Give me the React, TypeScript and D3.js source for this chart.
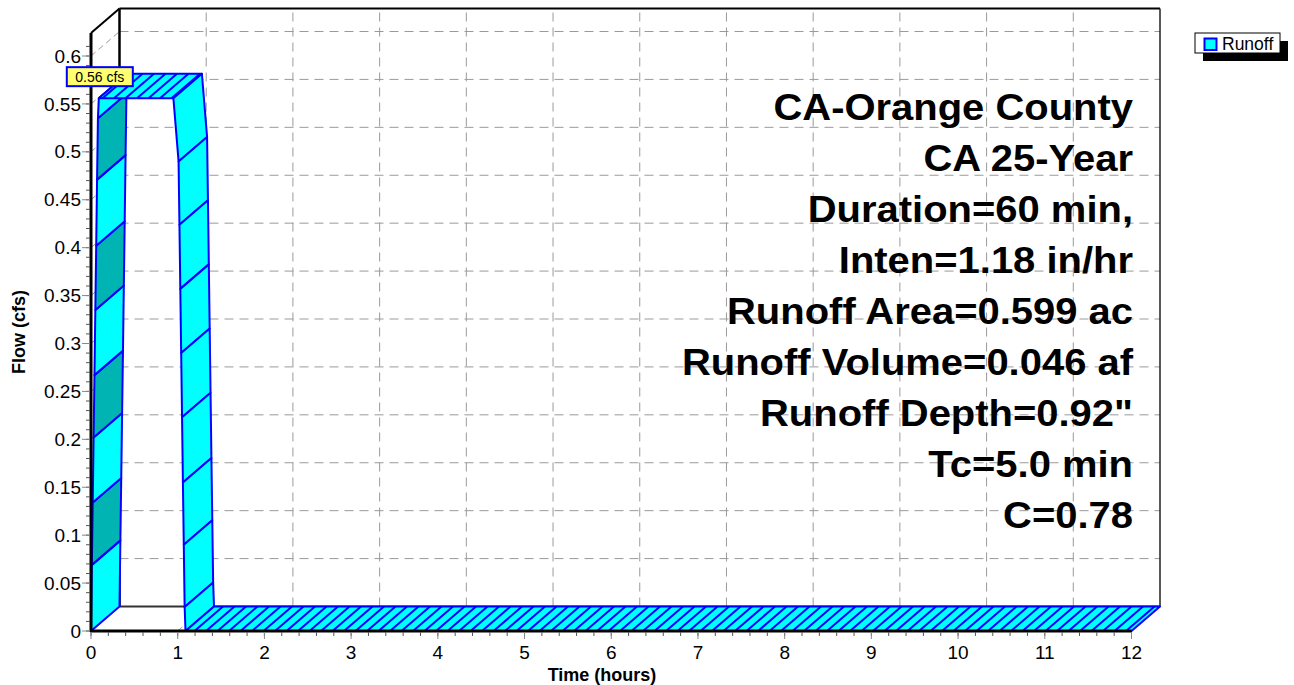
import React from "react";
import * as d3 from "d3";

// Runoff hydrograph (hours, cfs)
const timeHours = [0, 0.01, 0.02, 0.03, 0.04, 0.05, 0.06, 0.07, 0.08, 0.09, 0.95, 1.01, 1.02, 1.03, 1.04, 1.05, 1.06, 1.07, 1.08, 1.09, 12];
const runoffCfs = [0, 0.069, 0.134, 0.202, 0.267, 0.335, 0.402, 0.471, 0.535, 0.556, 0.556, 0.49, 0.424, 0.357, 0.29, 0.223, 0.155, 0.09, 0.025, 0, 0];

const xTickValues = [0, 1, 2, 3, 4, 5, 6, 7, 8, 9, 10, 11, 12];
const yTickValues = [0, 0.05, 0.1, 0.15, 0.2, 0.25, 0.3, 0.35, 0.4, 0.45, 0.5, 0.55, 0.6];
const yTickLabels = ["0", "0.05", "0.1", "0.15", "0.2", "0.25", "0.3", "0.35", "0.4", "0.45", "0.5", "0.55", "0.6"];

const seriesName = "Runoff";
const xTitle = "Time  (hours)";
const yTitle = "Flow  (cfs)";
const summaryLines = [
  "CA-Orange County",
  "CA 25-Year",
  "Duration=60 min,",
  "Inten=1.18 in/hr",
  "Runoff Area=0.599 ac",
  "Runoff Volume=0.046 af",
  "Runoff Depth=0.92\"",
  "Tc=5.0 min",
  "C=0.78",
];

const W = 1294;
const H = 685;
const DX = 28.5;
const DY = -24.5;
const FONT = "'Liberation Sans', Arial, Helvetica, sans-serif";
const CYAN = "#00FFFF";
const DARK = "#00B4B4";
const BLUE = "#0000FF";
const GRID = "#9a9a9a";

export default function App() {
  const x = d3.scaleLinear().domain([0, 12]).range([91, 1131.5]);
  const y = d3.scaleLinear().domain([0, 0.6]).range([631, 56]);
  const yMax = 0.624;

  const x0 = x(0);
  const x1 = x(12);
  const yBot = y(0);
  const yTopV = y(yMax);

  const minorY = d3.range(0, 62).map((i) => i / 100);
  const minorX = d3.range(0, 61).map((i) => i / 5);

  const pts = timeHours.map((t, i) => [x(t), y(runoffCfs[i])] as [number, number]);

  // ribbon faces, one per segment
  const faces: React.ReactNode[] = [];
  let risingIndex = 0;
  const hatchStep = 11.5;
  for (let i = 0; i < pts.length - 1; i++) {
    const [ax, ay] = pts[i];
    const [bx, by] = pts[i + 1];
    const poly = [
      [ax, ay],
      [bx, by],
      [bx + DX, by + DY],
      [ax + DX, ay + DY],
    ];
    const flat = runoffCfs[i] === runoffCfs[i + 1];
    const rising = runoffCfs[i + 1] > runoffCfs[i];
    let fill = CYAN;
    if (rising) {
      if (risingIndex % 2 === 1) fill = DARK;
      risingIndex++;
    }
    const hatch: React.ReactNode[] = [];
    if (flat) {
      const nStart = Math.ceil((ax - x0) / hatchStep);
      for (let n = nStart; x0 + n * hatchStep < bx - 1; n++) {
        const hx = x0 + n * hatchStep;
        if (hx <= ax + 1) continue;
        hatch.push(
          <line key={`h${n}`} x1={hx} y1={ay} x2={hx + DX} y2={ay + DY} stroke={BLUE} strokeWidth={2} />
        );
      }
    }
    faces.push(
      <g key={`f${i}`}>
        <polygon
          points={poly.map((p) => p.join(",")).join(" ")}
          fill={fill}
          stroke={BLUE}
          strokeWidth={2}
          strokeLinejoin="round"
        />
        {hatch}
      </g>
    );
  }

  const peakIdx = runoffCfs.indexOf(d3.max(runoffCfs) as number);
  const peakVal = runoffCfs[peakIdx];
  const peakLabel = `${peakVal.toFixed(2)} cfs`;
  const lblCx = x(timeHours[peakIdx]) + 1;
  const lblCy = y(peakVal) + DY + 3;

  return (
    <svg
      width={W}
      height={H}
      viewBox={`0 0 ${W} ${H}`}
      style={{ position: "absolute", left: 0, top: 0, background: "#fff" }}
      fontFamily={FONT}
    >
      {/* back wall grid */}
      {yTickValues.map((v) => (
        <line key={`gy${v}`} x1={x0 + DX} x2={x1 + DX} y1={y(v) + DY} y2={y(v) + DY} stroke={GRID} strokeDasharray="9,6" />
      ))}
      {xTickValues.slice(1, -1).map((v) => (
        <line key={`gx${v}`} x1={x(v) + DX} x2={x(v) + DX} y1={yBot + DY} y2={yTopV + DY} stroke={GRID} strokeDasharray="9,6" />
      ))}
      {/* side wall and floor grid */}
      {yTickValues.slice(1).map((v) => (
        <line key={`sw${v}`} x1={x0} y1={y(v)} x2={x0 + DX} y2={y(v) + DY} stroke={GRID} strokeDasharray="6,4" />
      ))}
      {xTickValues.slice(1, -1).map((v) => (
        <line key={`fl${v}`} x1={x(v)} y1={yBot} x2={x(v) + DX} y2={yBot + DY} stroke={GRID} strokeDasharray="6,4" />
      ))}

      {/* frame */}
      <line x1={x0 + DX} x2={x1 + DX} y1={yTopV + DY} y2={yTopV + DY} stroke="#000" strokeWidth={2} />
      <line x1={x0 + DX} x2={x0 + DX} y1={yTopV + DY} y2={yBot + DY} stroke="#000" strokeWidth={2.5} />
      <line x1={x1 + DX} x2={x1 + DX} y1={yTopV + DY} y2={yBot + DY} stroke="#222" strokeWidth={1.5} />
      <line x1={x0 + DX} x2={x1 + DX} y1={yBot + DY} y2={yBot + DY} stroke="#333" strokeWidth={2} />
      <line x1={x0} y1={yTopV} x2={x0 + DX} y2={yTopV + DY} stroke="#000" strokeWidth={2} />

      {/* storm summary */}
      <g fontWeight="bold" fontSize={37} fill="#000">
        {summaryLines.map((s, i) => (
          <text key={s} transform={`translate(1133,${120 + i * 51}) scale(1.08,1)`} textAnchor="end">
            {s}
          </text>
        ))}
      </g>

      {/* hydrograph ribbon */}
      {faces}

      {/* front axes */}
      <line x1={x0} x2={x0} y1={yTopV} y2={yBot + 1} stroke="#000" strokeWidth={3} />
      <line x1={x0 - 1} x2={x1} y1={yBot} y2={yBot} stroke="#000" strokeWidth={3} />

      {minorY.map((v) => (
        <line key={`my${v}`} x1={x0 - 5} x2={x0 - 1} y1={y(v)} y2={y(v)} stroke="#555" strokeWidth={1} />
      ))}
      {yTickValues.map((v) => (
        <line key={`ty${v}`} x1={x0 - 9} x2={x0 - 1} y1={y(v)} y2={y(v)} stroke="#888" strokeWidth={1} />
      ))}
      {minorX.map((v) => (
        <line key={`mx${v}`} x1={x(v)} x2={x(v)} y1={yBot + 1} y2={yBot + 5} stroke="#555" strokeWidth={1} />
      ))}
      {xTickValues.map((v) => (
        <line key={`tx${v}`} x1={x(v)} x2={x(v)} y1={yBot + 1} y2={yBot + 8} stroke="#888" strokeWidth={1} />
      ))}

      <g fontSize={19} fill="#000">
        {yTickValues.map((v, i) => (
          <text key={`yl${v}`} x={x0 - 10} y={y(v)} dy="0.35em" textAnchor="end">
            {yTickLabels[i]}
          </text>
        ))}
        {xTickValues.map((v) => (
          <text key={`xl${v}`} x={x(v)} y={659} textAnchor="middle">
            {v}
          </text>
        ))}
      </g>

      <text x={602} y={681} textAnchor="middle" fontWeight="bold" fontSize={18}>
        {xTitle}
      </text>
      <text
        transform={`translate(25,${(yTopV + yBot) / 2}) rotate(-90)`}
        textAnchor="middle"
        fontWeight="bold"
        fontSize={18}
      >
        {yTitle}
      </text>

      {/* peak label */}
      <rect x={lblCx - 33} y={lblCy - 9.5} width={66} height={19} fill="#FFFF70" stroke={BLUE} strokeWidth={2} />
      <text x={lblCx} y={lblCy} dy="0.35em" textAnchor="middle" fontSize={14}>
        {peakLabel}
      </text>

      {/* legend */}
      <rect x={1203} y={41} width={85} height={20} fill="#000" />
      <rect x={1195} y={33} width={85} height={20} fill="#fff" stroke="#000" strokeWidth={1} />
      <rect x={1204.5} y={38.5} width={12} height={11.5} fill={CYAN} stroke={BLUE} strokeWidth={2} />
      <text x={1222} y={50} fontSize={17.5}>
        {seriesName}
      </text>
    </svg>
  );
}
